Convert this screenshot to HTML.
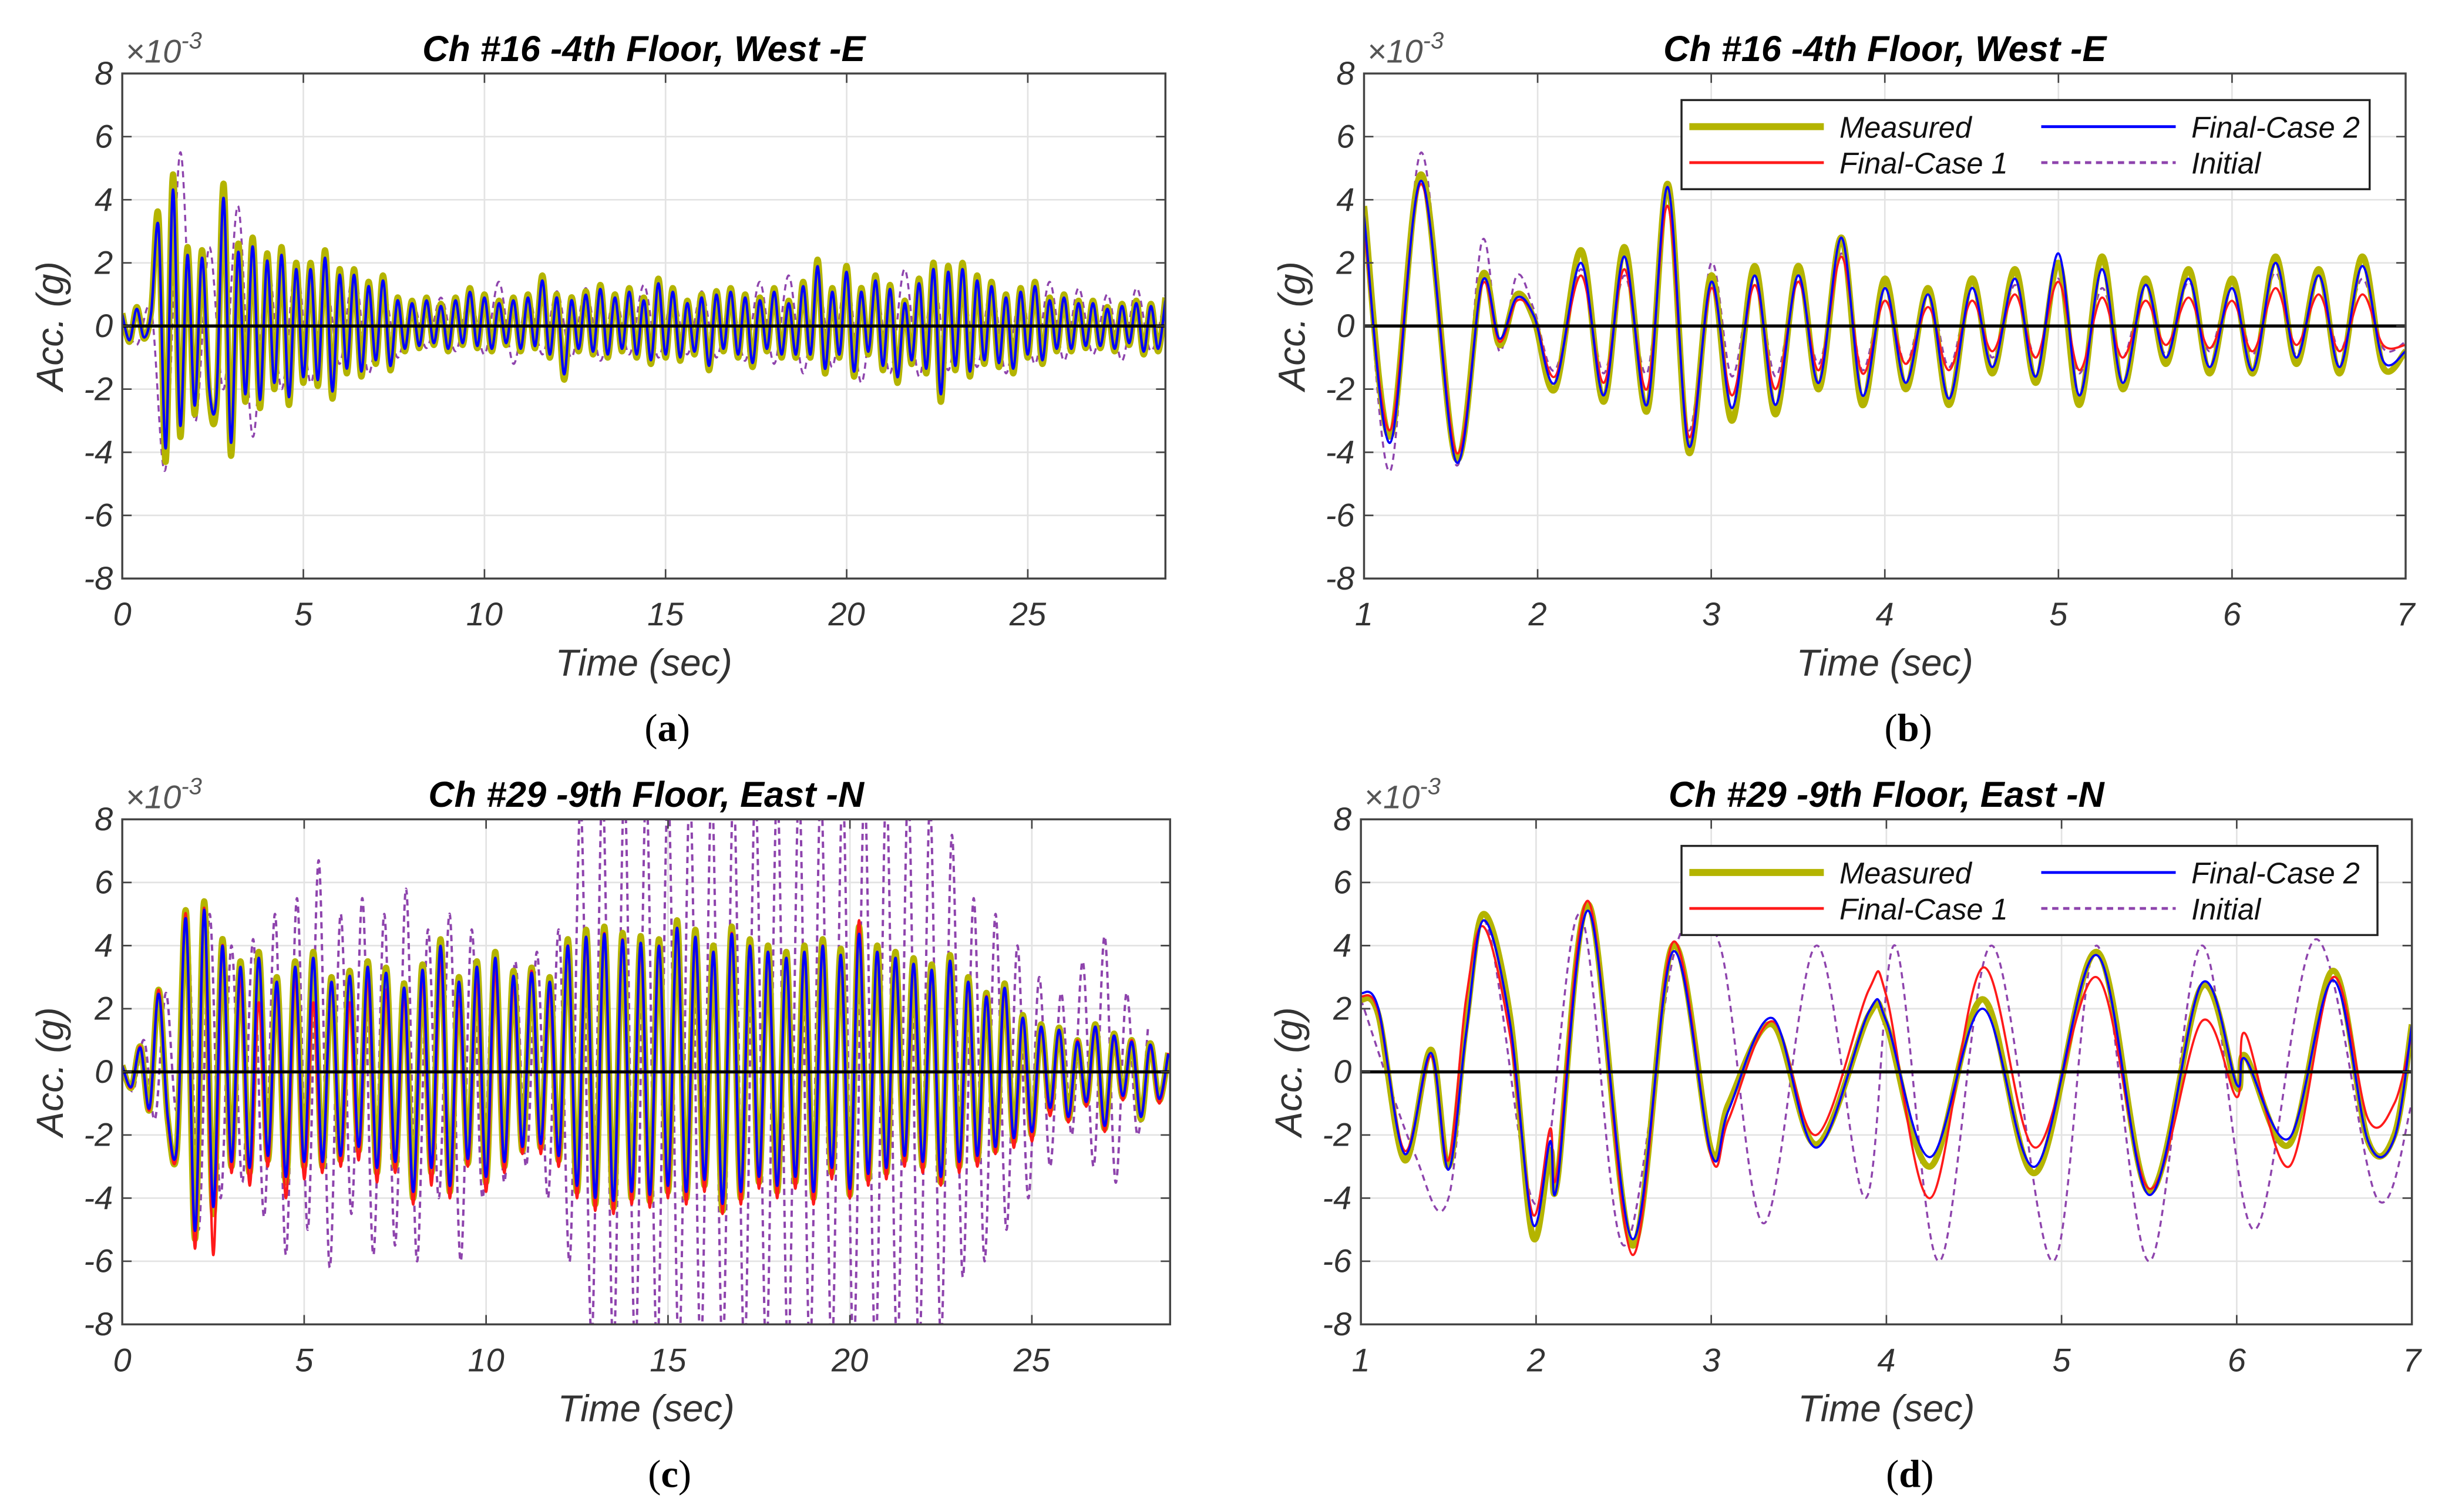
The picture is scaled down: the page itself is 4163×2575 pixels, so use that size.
<!DOCTYPE html>
<html><head><meta charset="utf-8"><style>
html,body{margin:0;padding:0;background:#fff;}
svg{display:block;}
text{font-family:"Liberation Sans",Arial,sans-serif;}
</style></head><body>
<svg id="fig" width="4163" height="2575" viewBox="0 0 1563 967" xmlns="http://www.w3.org/2000/svg"></svg>
<script>
// ---------- data ----------
const aMeas=[0.4,-0.5,0.6,-0.4,0.5,3.5,-4.3,4.8,-3.5,2.5,-2.8,2.4,-2.2,-2.5,4.5,-4.1,2.6,-2.4,2.8,-2.6,2.3,-2.0,2.5,-2.5,2.0,-1.8,2.0,-1.9,2.4,-2.3,1.8,-1.5,1.8,-1.6,1.4,-1.2,1.6,-1.4,0.9,-0.8,0.8,-0.7,0.9,-0.6,0.7,-0.8,0.9,-0.6,1.2,-0.7,1.0,-0.8,0.8,-0.6,0.9,-0.8,1.0,-0.7,1.6,-1.0,1.0,-1.7,0.9,-0.8,1.1,-0.9,1.3,-1.0,1.0,-0.8,1.2,-1.0,0.9,-1.2,1.5,-1.0,1.2,-1.1,0.8,-0.9,1.0,-1.4,1.1,-0.8,1.2,-1.0,1.0,-1.3,0.9,-0.8,1.2,-1.0,0.8,-1.0,1.4,-1.0,2.1,-1.5,1.2,-1.0,1.9,-1.6,1.2,-0.9,1.6,-1.4,1.3,-1.8,0.8,-1.2,1.5,-1.5,2.0,-2.4,1.9,-1.4,2.0,-1.6,1.6,-1.2,1.4,-1.3,1.0,-1.5,1.2,-1.0,1.4,-1.2,0.9,-0.8,1.0,-0.8,0.8,-0.7,0.8,-0.7,0.6,-0.8,0.7,-0.6,0.8,-0.9,0.7,-0.8,0.9];
const aInit=[0.3,-0.6,0.5,-4.5,5.5,-3.0,2.5,-2.0,3.8,-3.5,2.2,-2.0,2.0,-1.8,1.5,-1.2,1.8,-1.5,1.2,-1.0,0.8,-0.7,0.9,-0.8,1.0,-0.9,1.4,-1.2,1.0,-0.9,1.1,-1.0,1.2,-1.1,1.0,-0.9,1.3,-1.0,1.0,-0.9,1.1,-1.0,0.9,-1.1,1.4,-1.2,1.6,-1.5,1.5,-1.3,1.7,-1.8,1.3,-1.5,1.8,-1.6,1.5,-1.4,1.2,-1.3,1.3,-1.5,1.1,-1.2,1.4,-1.1,1.2,-0.9,1.0,-1.1,1.2,-0.8,1.0];
const cMeas=[0.2,-0.5,0.8,-1.2,2.6,-1.5,-2.5,5.1,-5.3,5.4,-4.5,4.2,-3.0,3.5,-3.2,3.8,-2.8,3.0,-3.5,3.5,-3.0,3.8,-3.0,3.0,-2.8,3.2,-2.5,3.5,-3.2,3.3,-3.0,2.8,-4.0,3.4,-3.2,4.2,-3.8,3.0,-2.9,3.5,-3.5,3.8,-3.0,3.2,-2.5,3.3,-2.4,3.0,-2.8,4.2,-3.8,4.5,-4.2,4.6,-4.3,4.4,-4.0,4.3,-4.1,4.2,-3.8,4.8,-4.0,4.5,-3.6,4.0,-4.4,4.6,-4.0,4.2,-3.5,4.0,-3.8,3.8,-3.5,4.0,-4.0,4.2,-3.2,3.9,-3.9,4.6,-3.4,4.0,-3.2,3.8,-2.8,3.6,-3.0,3.4,-3.5,3.7,-3.0,3.0,-2.8,2.5,-2.5,2.8,-2.2,1.8,-2.0,1.5,-1.2,1.4,-1.5,1.0,-1.0,1.5,-1.8,1.2,-0.8,1.0,-1.5,0.9,-0.9,0.6];
const cRed=[0.2,-0.5,0.8,-1.2,2.6,-1.5,-2.5,5.0,-5.6,5.2,-5.8,4.0,-3.2,3.0,-3.6,2.2,-3.0,2.6,-4.0,3.0,-3.4,2.2,-3.2,2.8,-3.0,2.2,-2.8,3.0,-3.5,2.6,-3.2,2.4,-4.2,3.0,-3.6,3.6,-4.0,2.4,-3.0,3.0,-3.8,3.2,-3.2,2.8,-2.6,3.2,-2.6,2.6,-3.0,4.0,-4.0,4.2,-4.4,4.4,-4.5,4.2,-4.2,4.0,-4.3,4.0,-4.0,4.5,-4.2,4.2,-3.8,3.8,-4.5,4.4,-4.2,4.0,-3.7,3.8,-4.0,3.6,-3.7,3.8,-4.2,4.0,-3.4,3.7,-4.0,4.8,-3.6,3.8,-3.4,3.6,-3.0,3.4,-3.2,3.2,-3.6,3.5,-3.2,2.8,-3.0,2.4,-2.6,2.6,-2.4,1.7,-2.2,1.4,-1.4,1.3,-1.6,1.0,-1.1,1.4,-1.9,1.1,-0.9,1.0,-1.4,0.8,-1.0,0.6];
const cInit=[0.2,-0.6,1.0,-1.5,2.5,-1.2,4.8,-5.0,5.0,-4.0,4.0,-3.5,4.2,-4.6,5.0,-5.8,5.5,-5.0,6.7,-6.2,5.0,-4.5,5.5,-5.8,5.0,-5.5,5.8,-6.0,4.5,-4.0,5.0,-6.0,4.5,-4.0,3.5,-3.5,3.5,-3.0,3.8,-4.0,4.5,-6.0,8.5,-8.5,9,-9,9,-9,9,-9,9,-9,9,-9,9,-9,9,-9,9,-9,9,-9,9,-9,9,-9,9,-9,9,-9,9,-9,9,-9,8.5,-8.5,7.5,-6.5,5.5,-6.0,5.0,-5.0,4.0,-4.0,3.0,-3.0,2.5,-2.0,3.5,-3.0,4.3,-3.5,2.5,-2.0,1.5];

const bT=[1.0,1.15,1.33,1.53,1.68,1.78,1.88,1.98,2.1,2.25,2.38,2.5,2.63,2.75,2.87,3.0,3.12,3.25,3.37,3.5,3.62,3.75,3.87,4.0,4.12,4.25,4.37,4.5,4.62,4.75,4.87,5.0,5.12,5.25,5.37,5.5,5.62,5.75,5.87,6.0,6.12,6.25,6.37,6.5,6.62,6.75,6.87,7.0];
const bMeas=[3.8,-3.5,4.8,-4.2,1.6,-0.6,1.0,0.2,-2.0,2.4,-2.4,2.5,-2.7,4.5,-4.0,1.6,-3.0,1.9,-2.8,1.9,-2.0,2.8,-2.5,1.5,-2.0,1.2,-2.5,1.5,-1.5,1.8,-1.8,2.0,-2.5,2.2,-2.0,1.5,-1.2,1.8,-1.5,1.5,-1.5,2.2,-1.2,1.8,-1.5,2.2,-1.3,-0.8];
const bBlue=[3.5,-3.7,4.6,-4.3,1.4,-0.4,0.9,0.3,-1.8,2.0,-2.2,2.2,-2.5,4.4,-3.8,1.4,-2.6,1.6,-2.5,1.6,-1.8,2.8,-2.2,1.2,-1.8,1.0,-2.3,1.2,-1.3,1.5,-1.6,2.3,-2.2,1.8,-1.8,1.3,-1.0,1.5,-1.3,1.2,-1.4,2.0,-1.0,1.6,-1.3,1.9,-1.1,-0.8];
const bRed=[3.2,-3.3,4.5,-4.0,1.3,-0.5,0.8,0.3,-1.6,1.6,-1.8,1.8,-2.0,3.8,-3.5,1.2,-2.2,1.3,-2.0,1.4,-1.4,2.2,-1.5,0.8,-1.2,0.6,-1.4,0.8,-0.8,1.0,-1.0,1.4,-1.4,0.9,-1.0,0.8,-0.6,0.9,-0.7,0.8,-0.8,1.2,-0.6,1.0,-0.8,1.0,-0.6,-0.6];
const bInit=[3.6,-4.6,5.5,-4.4,2.7,-0.8,1.6,0.5,-1.4,1.8,-1.5,1.6,-1.5,3.8,-3.3,2.0,-1.6,1.8,-1.6,1.5,-1.2,2.3,-1.4,1.3,-1.2,1.2,-1.3,1.2,-1.0,1.3,-1.0,1.5,-1.5,1.2,-1.0,1.3,-0.9,1.4,-0.8,1.5,-0.9,1.7,-0.9,1.6,-0.8,1.5,-0.7,-0.5];

const dT=[1.0,1.1,1.25,1.4,1.5,1.6,1.7,1.85,1.98,2.08,2.12,2.3,2.55,2.78,3.0,3.1,3.35,3.6,3.9,4.0,4.25,4.55,4.85,5.2,5.5,5.8,6.0,6.05,6.3,6.55,6.75,6.9,7.0];
const dMeas=[2.3,1.8,-2.8,0.7,-3.0,1.5,5.0,1.8,-5.2,-2.5,-3.5,5.3,-5.5,4.0,-2.5,-1.0,1.5,-2.3,1.8,1.5,-3.0,2.3,-3.2,3.8,-3.8,2.7,-0.5,0.5,-2.3,3.2,-2.2,-2.0,1.5];
const dBlue=[2.5,2.0,-2.6,0.6,-3.1,1.2,4.8,1.6,-4.8,-2.2,-3.6,5.1,-5.3,3.8,-2.6,-1.2,1.7,-2.4,1.9,1.6,-2.7,2.0,-3.0,3.7,-3.9,2.8,-0.4,0.4,-2.1,2.9,-2.2,-2.1,1.5];
const dRed=[2.4,1.9,-2.5,0.5,-2.8,2.3,4.6,1.2,-4.5,-1.8,-3.2,5.4,-5.8,4.1,-2.7,-1.5,1.6,-2.0,2.6,2.4,-4.0,3.3,-2.4,3.0,-3.7,1.6,-0.8,1.2,-3.0,3.0,-1.5,-1.0,1.2];
const dInitT=[1.0,1.3,1.5,1.7,2.0,2.25,2.5,2.8,3.05,3.3,3.6,3.88,4.05,4.3,4.6,4.95,5.2,5.5,5.8,6.1,6.45,6.8,7.0];
const dInit=[2.3,-2.5,-4.0,4.8,-4.2,5.0,-5.5,4.0,4.0,-4.8,4.0,-4.0,4.0,-6.0,4.0,-6.0,4.0,-6.0,4.0,-5.0,4.2,-4.0,-1.0];

const yTicks=[-8,-6,-4,-2,0,2,4,6,8];
const xTicksLong=[0,5,10,15,20,25];
const xTicksShort=[1,2,3,4,5,6,7];

// ---------- drawing ----------
const NS="http://www.w3.org/2000/svg";
const svg=document.getElementById('fig');
function mk(tag,attrs,parent){const e=document.createElementNS(NS,tag);for(const k in attrs)e.setAttribute(k,attrs[k]);(parent||svg).appendChild(e);return e;}
function txt(s,attrs,parent){const e=mk('text',attrs,parent);e.textContent=s;return e;}
function smoothPath(pts){
  if(pts.length<2)return '';
  let d='M'+pts[0][0].toFixed(2)+','+pts[0][1].toFixed(2);
  for(let i=0;i<pts.length-1;i++){
    const p0=pts[Math.max(0,i-1)],p1=pts[i],p2=pts[i+1],p3=pts[Math.min(pts.length-1,i+2)];
    const c1x=p1[0]+(p2[0]-p0[0])/6,c1y=p1[1]+(p2[1]-p0[1])/6;
    const c2x=p2[0]-(p3[0]-p1[0])/6,c2y=p2[1]-(p3[1]-p1[1])/6;
    d+=' C'+c1x.toFixed(2)+','+c1y.toFixed(2)+' '+c2x.toFixed(2)+','+c2y.toFixed(2)+' '+p2[0].toFixed(2)+','+p2[1].toFixed(2);
  }
  return d;
}
const COL={meas:'#b4b400',blue:'#0000ff',red:'#ff1a1a',init:'#8e44ad'};
let clipId=0;
function panel(cfg){
  const g=mk('g',{});
  
  
  const L=cfg.L,R=cfg.R,T=cfg.T,B=cfg.B;
  const xs=v=>L+(v-cfg.x0)/(cfg.x1-cfg.x0)*(R-L);
  const ys=v=>B-(v+8)/16*(B-T);
  mk('rect',{x:L,y:T,width:R-L,height:B-T,fill:'#fff'},g);
  const grid=mk('g',{},g);
  
  
  cfg.xt.forEach(v=>{mk('line',{x1:xs(v),x2:xs(v),y1:T,y2:B,stroke:'#e3e3e3','stroke-width':1},grid);});
  yTicks.forEach(v=>{mk('line',{x1:L,x2:R,y1:ys(v),y2:ys(v),stroke:'#e3e3e3','stroke-width':1},grid);});
  const id='clip'+(clipId++);
  const cp=mk('clipPath',{id:id},g);mk('rect',{x:L,y:T,width:R-L,height:B-T},cp);
  const plot=mk('g',{'clip-path':'url(#'+id+')'},g);
  cfg.series.forEach(s=>{
    const pts=s.v.map((v,i)=>[xs(s.t?s.t[i]:cfg.x0+i*s.dt),ys(v)]).filter(p=>!isNaN(p[0]));
    const p=mk('path',{d:smoothPath(pts),fill:'none',stroke:s.c,'stroke-width':s.w,'stroke-linejoin':'round'},plot);
    if(s.dash)p.setAttribute('stroke-dasharray',s.dash);
    
    
  });
  const zl=mk('line',{x1:L,x2:R,y1:ys(0),y2:ys(0),stroke:'#000','stroke-width':2},g);
  
  
  mk('rect',{x:L,y:T,width:R-L,height:B-T,fill:'none',stroke:'#444','stroke-width':1.3},g);
  cfg.xt.forEach(v=>{
    mk('line',{x1:xs(v),x2:xs(v),y1:B,y2:B-6,stroke:'#444','stroke-width':1},g);
    mk('line',{x1:xs(v),x2:xs(v),y1:T,y2:T+6,stroke:'#444','stroke-width':1},g);
    const t=txt(String(v),{x:xs(v),y:B+30,'font-size':21,'font-style':'italic','text-anchor':'middle',fill:'#333'},g);
    
    
  });
  yTicks.forEach(v=>{
    mk('line',{x1:L,x2:L+6,y1:ys(v),y2:ys(v),stroke:'#444','stroke-width':1},g);
    mk('line',{x1:R,x2:R-6,y1:ys(v),y2:ys(v),stroke:'#444','stroke-width':1},g);
    const t=txt(String(v),{x:L-6,y:ys(v)+7,'font-size':21,'font-style':'italic','text-anchor':'end',fill:'#333'},g);
    
    
  });
  const ex=txt('\u00d710',{x:L+2,y:T-7,'font-size':21,'font-style':'italic',fill:'#555'},g);
  
  
  const ts=mk('tspan',{dy:-9,'font-size':15},ex);ts.textContent='-3';
  const ti=txt(cfg.title,{x:(L+R)/2,y:T-8,'font-size':23,'font-weight':'bold','font-style':'italic','text-anchor':'middle',fill:'#000'},g);
  
  
  const yl=txt('Acc. (g)',{x:0,y:0,'font-size':24,'font-style':'italic','text-anchor':'middle',fill:'#333',transform:'translate('+(L-38)+','+((T+B)/2)+') rotate(-90)'},g);
  
  
  const xl=txt('Time (sec)',{x:(L+R)/2,y:B+62,'font-size':24,'font-style':'italic','text-anchor':'middle',fill:'#333'},g);
  
  
  const sl=mk('text',{x:(L+R)/2+15,y:B+104,'font-size':25,'text-anchor':'middle',fill:'#000',style:'font-family:"Liberation Serif",serif'},g);
  
  
  const s1=mk('tspan',{},sl);s1.textContent='(';
  const s2=mk('tspan',{'font-weight':'bold'},sl);s2.textContent=cfg.letter;
  const s3=mk('tspan',{},sl);s3.textContent=')';
  if(cfg.legend){
    const lg=mk('g',{},g);
    
    
    const lx=cfg.legend[0],ly=cfg.legend[1],lw=cfg.legend[2];
    mk('rect',{x:lx,y:ly,width:lw,height:57,fill:'#fff',stroke:'#222','stroke-width':1.3},lg);
    const items=[['Measured',COL.meas,4.5,null,0,0],['Final-Case 2',COL.blue,1.8,null,1,0],['Final-Case 1',COL.red,1.8,null,0,1],['Initial',COL.init,1.8,'4,3',1,1]];
    items.forEach(it=>{
      const ex0=lx+5+it[4]*225,ey=ly+17+it[5]*23;
      const ln=mk('line',{x1:ex0,x2:ex0+86,y1:ey,y2:ey,stroke:it[1],'stroke-width':it[2]},lg);
      if(it[3])ln.setAttribute('stroke-dasharray',it[3]);
      const t=txt(it[0],{x:ex0+96,y:ey+7,'font-size':19,'font-style':'italic',fill:'#111'},lg);
      
      
    });
  }
}
panel({name:'panel-a',letter:'a',L:78,R:745,T:47,B:370,x0:0,x1:28.8,xt:xTicksLong,title:'Ch #16 -4th Floor, West -E',
  series:[{n:'initial-line',v:aInit,dt:0.4,c:COL.init,w:1.3,dash:'4,3'},{n:'measured-line',v:aMeas,dt:0.2,c:COL.meas,w:4},{n:'final-case2-line',v:aMeas.map(v=>v*0.9),dt:0.2,c:COL.blue,w:1.6}]});
panel({name:'panel-b',letter:'b',L:872,R:1538,T:47,B:370,x0:1,x1:7,xt:xTicksShort,title:'Ch #16 -4th Floor, West -E',legend:[1075,64,440],
  series:[{n:'initial-line',v:bInit,t:bT,c:COL.init,w:1.3,dash:'4,3'},{n:'measured-line',v:bMeas,t:bT,c:COL.meas,w:4},{n:'final-case1-line',v:bRed,t:bT,c:COL.red,w:1.4},{n:'final-case2-line',v:bBlue,t:bT,c:COL.blue,w:1.4}]});
panel({name:'panel-c',letter:'c',L:78,R:748,T:524,B:847,x0:0,x1:28.8,xt:xTicksLong,title:'Ch #29 -9th Floor, East -N',
  series:[{n:'initial-line',v:cInit,dt:0.3,c:COL.init,w:1.5,dash:'4,3'},{n:'measured-line',v:cMeas,dt:0.25,c:COL.meas,w:4},{n:'final-case1-line',v:cRed,dt:0.25,c:COL.red,w:1.6},{n:'final-case2-line',v:cMeas.map(v=>v*0.95),dt:0.25,c:COL.blue,w:1.6}]});
panel({name:'panel-d',letter:'d',L:870,R:1542,T:524,B:847,x0:1,x1:7,xt:xTicksShort,title:'Ch #29 -9th Floor, East -N',legend:[1075,541,445],
  series:[{n:'initial-line',v:dInit,t:dInitT,c:COL.init,w:1.3,dash:'4,3'},{n:'measured-line',v:dMeas,t:dT,c:COL.meas,w:4},{n:'final-case1-line',v:dRed,t:dT,c:COL.red,w:1.4},{n:'final-case2-line',v:dBlue,t:dT,c:COL.blue,w:1.4}]});
</script>
</body></html>
